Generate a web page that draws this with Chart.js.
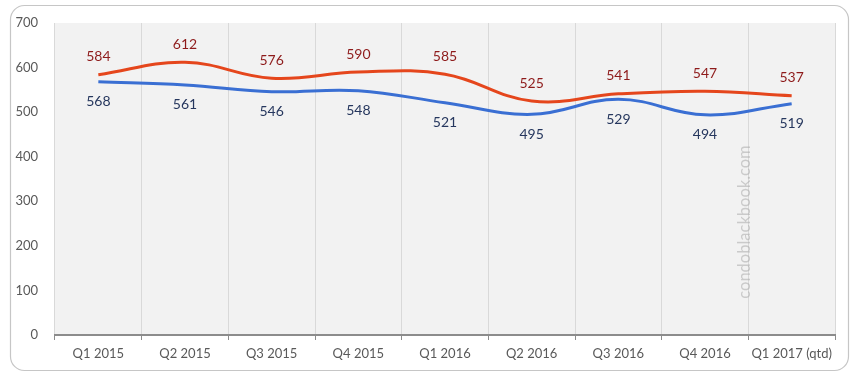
<!DOCTYPE html>
<html><head><meta charset="utf-8">
<script src="https://cdn.jsdelivr.net/npm/chart.js@4"></script>
<style>html,body{margin:0;padding:0;background:#fff}#w{width:851px;height:391px}</style>
</head><body><div id="w"><canvas id="c" width="851" height="391"></canvas></div>
<script>
const categories = ["Q1 2015","Q2 2015","Q3 2015","Q4 2015","Q1 2016","Q2 2016","Q3 2016","Q4 2016","Q1 2017 (qtd)"];
const seriesRed = [584,612,576,590,585,525,541,547,537];
const seriesBlue = [568,561,546,548,521,495,529,494,519];
const yTicks = [0,100,200,300,400,500,600,700];
const watermark = "condoblackbook.com";

const FONT = "Lato, 'Open Sans', sans-serif";

const framePlugin = {
  id:'frame',
  beforeDraw(chart){
    const ctx = chart.ctx, a = chart.chartArea;
    ctx.save();
    ctx.fillStyle = '#fff'; ctx.fillRect(0,0,chart.width,chart.height);
    ctx.beginPath();
    ctx.roundRect(10.5,5.5,838,365,14);
    ctx.strokeStyle = '#c6c6c6'; ctx.lineWidth = 1.2; ctx.stroke();
    ctx.fillStyle = '#f2f2f2';
    ctx.fillRect(a.left,a.top,a.right-a.left,a.bottom-a.top);
    ctx.restore();
  },
  afterDatasetsDraw(chart){
    const ctx = chart.ctx;
    ctx.save();
    ctx.font = "14px " + FONT;
    ctx.textAlign = 'center'; ctx.textBaseline = 'middle';
    const m0 = chart.getDatasetMeta(0), m1 = chart.getDatasetMeta(1);
    m0.data.forEach((p,i)=>{ ctx.fillStyle='#8e1b1b'; ctx.fillText(String(seriesRed[i]), p.x, p.y-18); });
    m1.data.forEach((p,i)=>{ ctx.fillStyle='#26375e'; ctx.fillText(String(seriesBlue[i]), p.x, p.y+20); });
    ctx.translate(745, 222);
    ctx.rotate(-Math.PI/2);
    ctx.font = "16.5px " + FONT;
    ctx.fillStyle = 'rgba(170,170,170,0.55)';
    ctx.fillText(watermark, 0, 0);
    ctx.restore();
  }
};

new Chart(document.getElementById('c'), {
  type:'line',
  data:{
    labels: categories,
    datasets:[
      {data: seriesRed, borderColor:'#e5461c', borderWidth:3, tension:0.4, pointRadius:0, fill:false},
      {data: seriesBlue, borderColor:'#3a6fd3', borderWidth:3, tension:0.4, pointRadius:0, fill:false}
    ]
  },
  options:{
    responsive:false, animation:false,
    layout:{padding:{left:10, right:16, top:23, bottom:16}},
    plugins:{legend:{display:false}, tooltip:{enabled:false}},
    scales:{
      x:{
        offset:true,
        grid:{display:true, offset:true, color:'#d9d9d9', lineWidth:1, tickLength:5, tickColor:'#8c8c8c'},
        border:{display:true, color:'#8c8c8c', width:2},
        ticks:{color:'#595959', font:{family:FONT, size:13}, padding:6, maxRotation:0, autoSkip:false},
        afterFit(s){ s.height = 40; }
      },
      y:{
        min:0, max:700,
        afterBuildTicks(s){ s.ticks = yTicks.map(v=>({value:v})); },
        grid:{display:false},
        border:{display:false},
        ticks:{color:'#595959', font:{family:FONT, size:13}, padding:9},
        afterFit(s){ s.width = 45; }
      }
    }
  },
  plugins:[framePlugin]
});
</script>
</body></html>
